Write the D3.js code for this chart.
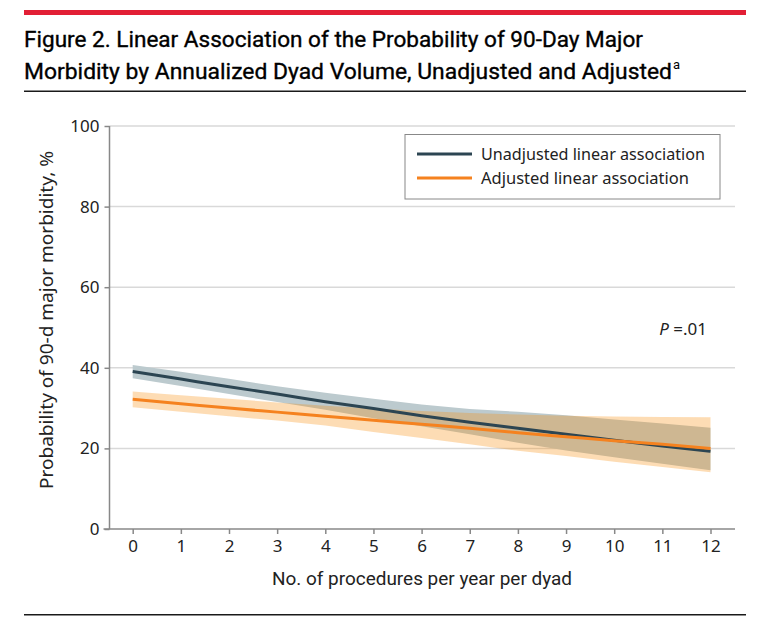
<!DOCTYPE html>
<html><head><meta charset="utf-8">
<script src="https://cdn.jsdelivr.net/npm/d3@7"></script>
<style>
body{margin:0;background:#fff;}
svg{display:block;}
</style></head>
<body>
<svg id="c" width="766" height="632"></svg>
<script>
const volumes = [0,1,2,3,4,5,6,7,8,9,10,11,12];
const unadjusted = [39.1,37.2,35.3,33.5,31.6,29.9,28.1,26.5,25.0,23.5,22.0,20.6,19.3];
const unadjustedUpper = [40.7,39.0,37.3,35.4,33.8,32.3,30.9,29.8,29.1,28.2,27.2,26.2,25.1];
const unadjustedLower = [37.4,35.5,33.5,31.5,29.6,27.5,25.5,23.5,21.4,19.5,17.8,16.2,14.6];
const adjusted = [32.2,31.1,30.0,29.0,28.0,27.0,26.0,25.0,23.9,22.9,21.9,21.0,20.0];
const adjustedUpper = [34.1,33.2,32.3,31.4,30.6,29.9,29.3,28.8,28.4,28.1,27.9,27.8,27.7];
const adjustedLower = [30.2,29.1,28.0,26.9,25.7,24.1,22.6,21.0,19.4,18.1,16.7,15.4,14.1];
const yTicks = [0,20,40,60,80,100];
const xTicks = [0,1,2,3,4,5,6,7,8,9,10,11,12];
const seriesNames = ["Unadjusted linear association","Adjusted linear association"];

const svg = d3.select("#c");
const x = d3.scaleLinear().domain([0,12]).range([132.7,710.5]);
const y = d3.scaleLinear().domain([0,100]).range([529,126]);
const left = 109.5, right = 735;

// header
svg.append("rect").attr("x",24).attr("y",10).attr("width",722).attr("height",5).attr("fill","#e21f35");
const tfont = "Roboto, 'Noto Sans', sans-serif";
svg.append("text").attr("x",24).attr("y",47).attr("font-family",tfont).attr("font-size",22.5)
  .attr("fill","#000").attr("stroke","#000").attr("stroke-width",0.35)
  .attr("textLength",619).attr("lengthAdjust","spacingAndGlyphs")
  .text("Figure 2. Linear Association of the Probability of 90-Day Major");
const t2 = svg.append("text").attr("x",24).attr("y",79).attr("font-family",tfont).attr("font-size",22.5)
  .attr("fill","#000").attr("stroke","#000").attr("stroke-width",0.35);
t2.append("tspan").attr("textLength",648).attr("lengthAdjust","spacingAndGlyphs")
  .text("Morbidity by Annualized Dyad Volume, Unadjusted and Adjusted");
svg.append("text").attr("x",673).attr("y",69).attr("font-family",tfont).attr("font-size",13)
  .attr("fill","#000").text("a");
svg.append("rect").attr("x",24).attr("y",90.5).attr("width",722).attr("height",1.5).attr("fill","#1a1a1a");
svg.append("rect").attr("x",24).attr("y",614).attr("width",722).attr("height",1.5).attr("fill","#1a1a1a");

// gridlines
svg.append("g").selectAll("line").data(yTicks.filter(d=>d>0)).join("line")
  .attr("x1",left).attr("x2",right).attr("y1",d=>y(d)).attr("y2",d=>y(d))
  .attr("stroke","#d9d9d9").attr("stroke-width",1.5);

// axes
const afont = "'Noto Sans', 'Open Sans', sans-serif";
const yAxis = svg.append("g").attr("transform",`translate(${left},0)`)
  .call(d3.axisLeft(y).tickValues(yTicks).tickSize(5).tickPadding(5));
yAxis.select(".domain").attr("stroke","#888").attr("stroke-width",1.5).attr("d",`M0,${y(100)}V${y(0)}`);
yAxis.selectAll(".tick line").attr("stroke","#888").attr("stroke-width",1.5);
yAxis.selectAll(".tick text").attr("font-family",afont).attr("font-size",17).attr("fill","#222");

const xAxis = svg.append("g").attr("transform",`translate(0,${y(0)})`)
  .call(d3.axisBottom(x).tickValues(xTicks).tickSize(5).tickPadding(6));
xAxis.select(".domain").attr("stroke","#888").attr("stroke-width",1.5).attr("d",`M${left-6},0H${right}`);
xAxis.selectAll(".tick line").attr("stroke","#888").attr("stroke-width",1.5);
xAxis.selectAll(".tick text").attr("font-family",afont).attr("font-size",17).attr("fill","#222");

// axis titles
svg.append("text").attr("transform","translate(53,320) rotate(-90)").attr("text-anchor","middle")
  .attr("font-family",afont).attr("font-size",18).attr("fill","#222")
  .attr("textLength",338).attr("lengthAdjust","spacingAndGlyphs")
  .text("Probability of 90-d major morbidity, %");
svg.append("text").attr("x",422).attr("y",585).attr("text-anchor","middle")
  .attr("font-family",tfont).attr("font-size",18).attr("fill","#222")
  .attr("textLength",300).attr("lengthAdjust","spacingAndGlyphs")
  .text("No. of procedures per year per dyad");

// bands
const idx = volumes.map((d,i)=>i);
const area = (lo,hi)=>d3.area().x(i=>x(volumes[i])).y0(i=>y(lo[i])).y1(i=>y(hi[i]));
const bands = svg.append("g");
bands.append("path").attr("d",area(unadjustedLower,unadjustedUpper)(idx)).attr("fill","#bccace");
bands.append("path").attr("d",area(adjustedLower,adjustedUpper)(idx)).attr("fill","#f88a05").attr("fill-opacity",0.3);

const line = vals=>d3.line().x(i=>x(volumes[i])).y(i=>y(vals[i])).curve(d3.curveMonotoneX);
svg.append("path").attr("d",line(unadjusted)(idx)).attr("fill","none").attr("stroke","#2c4552").attr("stroke-width",3);
svg.append("path").attr("d",line(adjusted)(idx)).attr("fill","none").attr("stroke","#f5821f").attr("stroke-width",3);

// legend
svg.append("rect").attr("x",405).attr("y",134.5).attr("width",315).attr("height",64.5)
  .attr("fill","#fff").attr("stroke","#888").attr("stroke-width",1);
const lc = ["#2c4552","#f5821f"];
seriesNames.forEach((n,i)=>{
  const ly = 154 + i*24;
  svg.append("line").attr("x1",417).attr("x2",472).attr("y1",ly).attr("y2",ly).attr("stroke",lc[i]).attr("stroke-width",3);
  svg.append("text").attr("x",481).attr("y",ly+6).attr("font-family",afont).attr("font-size",16.5).attr("fill","#222")
    .attr("textLength",i===0?224:208).attr("lengthAdjust","spacingAndGlyphs").text(n);
});

// P value
const pt = svg.append("text").attr("x",707).attr("y",335).attr("text-anchor","end")
  .attr("font-family",afont).attr("font-size",17).attr("fill","#222");
pt.append("tspan").attr("font-style","italic").text("P");
pt.append("tspan").text(" =.01");
</script>
</body></html>
